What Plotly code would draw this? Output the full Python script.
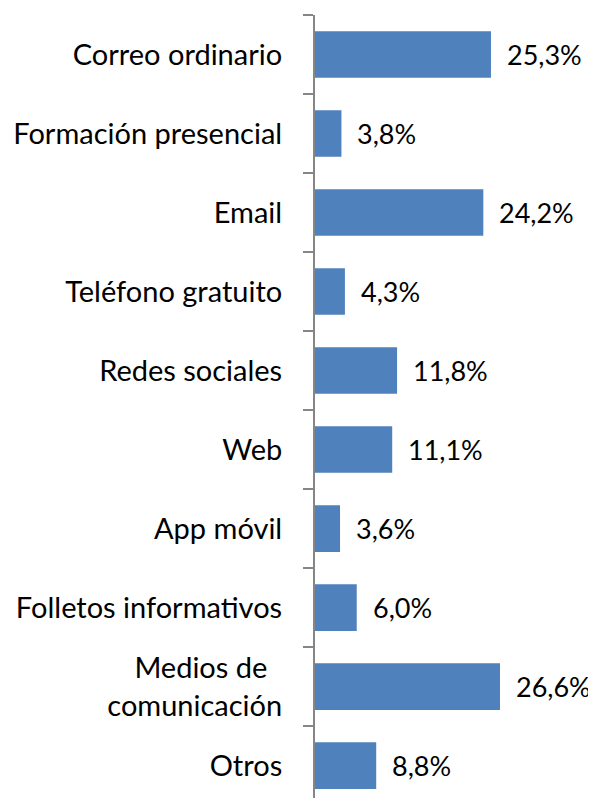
import plotly.graph_objects as go

categories = ["Correo ordinario", "Formación presencial", "Email", "Teléfono gratuito",
              "Redes sociales", "Web", "App móvil", "Folletos informativos",
              "Medios de\u00a0\u00a0<br>comunicación", "Otros"]
values = [25.3, 3.8, 24.2, 4.3, 11.8, 11.1, 3.6, 6.0, 26.6, 8.8]
value_labels = [f"{v:.1f}".replace(".", ",") + "%" for v in values]

FONT = "Lato"
FS = 29
FS_VAL = 27

fig = go.Figure(go.Bar(
    x=values, y=categories, orientation="h",
    marker=dict(color="#4F81BD", line=dict(width=0)),
    hoverinfo="skip",
))

for v, c, t in zip(values, categories, value_labels):
    fig.add_annotation(x=v, y=c, text=t, showarrow=False, xanchor="left",
                       yanchor="middle", xshift=14,
                       font=dict(family=FONT, size=FS_VAL, color="#000000"))

# page body has an 8px default margin, so the figure is sized to fit the window
fig.update_layout(
    width=588, height=790,
    margin=dict(l=307, r=0, t=7, b=0, autoexpand=False),
    paper_bgcolor="white", plot_bgcolor="white",
    bargap=0.41, showlegend=False,
    font=dict(family=FONT, size=FS, color="#000000"),
    xaxis=dict(visible=False, range=[0, 40.4], automargin=False),
    yaxis=dict(type="category", range=[9.41, -0.5], showline=True,
               automargin=False,
               linecolor="#868686", linewidth=2, ticks="outside",
               tickson="boundaries", ticklen=10, tickwidth=2,
               tickcolor="#868686", showgrid=False, zeroline=False,
               ticklabelstandoff=25,
               tickfont=dict(family=FONT, size=FS, color="#000000")),
)

fig.write_html("out.html")
